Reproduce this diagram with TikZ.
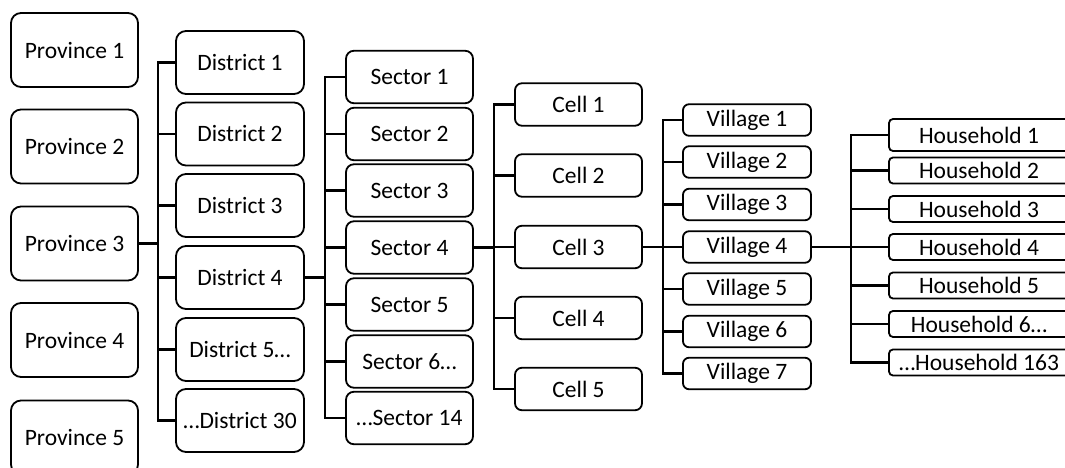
\documentclass[tikz,border=0pt]{standalone}
\usepackage{fontspec}
\setmainfont{Carlito}
\begin{document}
\begin{tikzpicture}[x=1pt,y=-1pt,
  box/.style={draw=black, line width=1.8pt, fill=white, inner sep=0pt, align=center,
    font=\fontsize{23.5}{28}\selectfont, text=black},
  prov/.style={box, rounded corners=10pt, minimum width=127pt, minimum height=74pt},
  dist/.style={box, rounded corners=10pt, minimum width=128pt, minimum height=63pt},
  sect/.style={box, rounded corners=8pt, minimum width=127pt, minimum height=52.5pt},
  cellb/.style={box, rounded corners=7pt, minimum width=127pt, minimum height=42.5pt},
  vill/.style={box, rounded corners=6pt, minimum width=128pt, minimum height=31.5pt},
  hh/.style={box, rounded corners=4pt, minimum width=180pt, minimum height=26pt},
  conn/.style={draw=black, line width=2.7pt, line join=miter}
]
\useasboundingbox (0,0) rectangle (1065,468);
\clip (0,0) rectangle (1065,468);

% Provinces
\node[prov] (p1) at (74.5,50) {Province 1};
\node[prov] (p2) at (74.5,146.5) {Province 2};
\node[prov] (p3) at (74.5,243.5) {Province 3};
\node[prov] (p4) at (74.5,340) {Province 4};
\node[prov] (p5) at (74.5,437.5) {Province 5};

% Districts
\node[dist] (d1) at (240,62.5) {District 1};
\node[dist] (d2) at (240,134) {District 2};
\node[dist] (d3) at (240,205.5) {District 3};
\node[dist] (d4) at (240,277.5) {District 4};
\node[dist] (d5) at (240,349.5) {District 5…};
\node[dist] (d6) at (240,420.5) {…District 30};

% Sectors
\node[sect] (s1) at (409.5,77) {Sector 1};
\node[sect] (s2) at (409.5,134) {Sector 2};
\node[sect] (s3) at (409.5,190.5) {Sector 3};
\node[sect] (s4) at (409.5,247.5) {Sector 4};
\node[sect] (s5) at (409.5,304.5) {Sector 5};
\node[sect] (s6) at (409.5,361.5) {Sector 6…};
\node[sect] (s7) at (409.5,418) {…Sector 14};

% Cells
\node[cellb] (c1) at (578.5,104.5) {Cell 1};
\node[cellb] (c2) at (578.5,175.5) {Cell 2};
\node[cellb] (c3) at (578.5,247) {Cell 3};
\node[cellb] (c4) at (578.5,318) {Cell 4};
\node[cellb] (c5) at (578.5,389) {Cell 5};

% Villages
\node[vill] (v1) at (747,120) {Village 1};
\node[vill] (v2) at (747,162) {Village 2};
\node[vill] (v3) at (747,204.5) {Village 3};
\node[vill] (v4) at (747,247) {Village 4};
\node[vill] (v5) at (747,289) {Village 5};
\node[vill] (v6) at (747,331.5) {Village 6};
\node[vill] (v7) at (747,373.5) {Village 7};

% Households
\node[hh, minimum height=32pt] (h1) at (979,135) {Household 1};
\node[hh] (h2) at (979,170.5) {Household 2};
\node[hh] (h3) at (979,209) {Household 3};
\node[hh] (h4) at (979,247) {Household 4};
\node[hh] (h5) at (979,285.5) {Household 5};
\node[hh] (h6) at (979,324) {Household 6…};
\node[hh] (h7) at (979,362.5) {…Household 163};

% Bus coordinates
\coordinate (b1) at (158,0);
\coordinate (b2) at (325,0);
\coordinate (b3) at (494,0);
\coordinate (b4) at (663,0);
\coordinate (b5) at (851,0);

% Province 3 -> Districts
\draw[conn] (p3.east) -- (p3.east -| b1);
\draw[conn] (d1.west) -- (d1.west -| b1) -- (d6.west -| b1) -- (d6.west);
\foreach \n in {d2,d3,d4,d5} \draw[conn] (\n.west -| b1) -- (\n.west);

% District 4 -> Sectors
\draw[conn] (d4.east) -- (d4.east -| b2);
\draw[conn] (s1.west) -- (s1.west -| b2) -- (s7.west -| b2) -- (s7.west);
\foreach \n in {s2,s3,s4,s5,s6} \draw[conn] (\n.west -| b2) -- (\n.west);

% Sector 4 -> Cells
\draw[conn] (s4.east) -- (s4.east -| b3);
\draw[conn] (c1.west) -- (c1.west -| b3) -- (c5.west -| b3) -- (c5.west);
\foreach \n in {c2,c3,c4} \draw[conn] (\n.west -| b3) -- (\n.west);

% Cell 3 -> Villages
\draw[conn] (c3.east) -- (c3.east -| b4);
\draw[conn] (v1.west) -- (v1.west -| b4) -- (v7.west -| b4) -- (v7.west);
\foreach \n in {v2,v3,v4,v5,v6} \draw[conn] (\n.west -| b4) -- (\n.west);

% Village 4 -> Households
\draw[conn] (v4.east) -- (v4.east -| b5);
\draw[conn] (h1.west) -- (h1.west -| b5) -- (h7.west -| b5) -- (h7.west);
\foreach \n in {h2,h3,h4,h5,h6} \draw[conn] (\n.west -| b5) -- (\n.west);
\end{tikzpicture}
\end{document}
